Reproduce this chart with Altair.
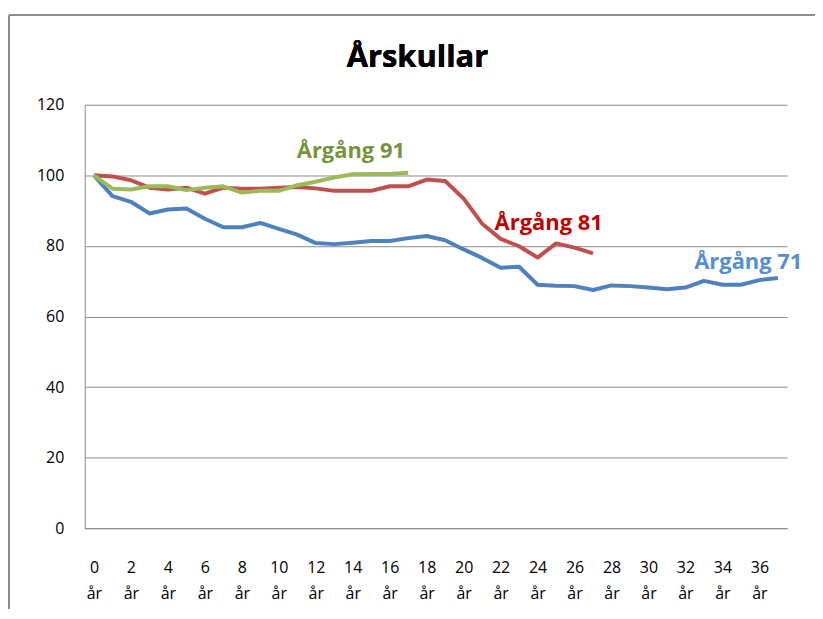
import altair as alt
import pandas as pd

years = list(range(38))
arg71 = [100, 94.1, 92.5, 89.2, 90.3, 90.6, 87.7, 85.3, 85.3, 86.5, 84.8, 83.2, 80.8, 80.5,
         80.9, 81.4, 81.4, 82.2, 82.8, 81.6, 79.0, 76.6, 73.8, 74.1, 69.0, 68.7, 68.6, 67.5,
         68.8, 68.6, 68.2, 67.7, 68.2, 70.1, 69.0, 69.0, 70.3, 70.9]
arg81 = [100, 99.7, 98.6, 96.5, 96.0, 96.5, 94.8, 96.5, 96.2, 96.2, 96.5, 96.7, 96.3, 95.6,
         95.6, 95.6, 96.9, 96.9, 98.8, 98.4, 93.4, 86.3, 82.0, 79.9, 76.7, 80.7, 79.5, 77.9]
arg91 = [100, 96.2, 96.0, 96.9, 96.9, 95.8, 96.5, 96.9, 95.1, 95.6, 95.6, 97.2, 98.2, 99.4,
         100.3, 100.4, 100.4, 100.7]
series_names = ["Årgång 71", "Årgång 81", "Årgång 91"]
line_colors = ["#4F81BD", "#C0504D", "#9BBB59"]
label_colors = ["#558ED5", "#C00000", "#77933C"]
label_x = [35.4, 24.6, 13.9]
label_y = [75.3, 86.6, 107.0]
y_ticks = [0, 20, 40, 60, 80, 100, 120]
title_text = "Årskullar"

rows = []
for name, vals in zip(series_names, [arg71, arg81, arg91]):
    for i, v in enumerate(vals):
        rows.append({"serie": name, "ar": years[i], "varde": v})
df = pd.DataFrame(rows)
labels = pd.DataFrame({"serie": series_names, "lx": label_x, "ly": label_y})

FONT = "Open Sans"

yscale = alt.Scale(domain=[0, 120])
yaxis = alt.Axis(title=None, values=y_ticks, ticks=False,
                 domain=True, domainColor="#8c8c8c", gridColor="#8c8c8c",
                 labelFont=FONT, labelFontSize=16, labelColor="#000000",
                 labelPadding=21)

lines = alt.Chart(df).mark_line(strokeWidth=4, strokeJoin="round").encode(
    x=alt.X("ar:O", scale=alt.Scale(type="point", padding=0.5, domain=years),
            axis=alt.Axis(title=None, labelAngle=0, ticks=False, domain=True,
                          domainColor="#8c8c8c", grid=False,
                          labelExpr="datum.value % 2 == 0 ? [datum.label, 'år'] : ''",
                          labelFont=FONT, labelFontSize=16, labelColor="#000000",
                          labelPadding=31, labelLineHeight=27)),
    y=alt.Y("varde:Q", scale=yscale, axis=yaxis),
    color=alt.Color("serie:N", scale=alt.Scale(domain=series_names, range=line_colors),
                    legend=None),
    order=alt.Order("ar:Q"),
)

texts = alt.Chart(labels).mark_text(font=FONT, fontSize=22, fontWeight="bold").encode(
    x=alt.X("lx:Q", scale=alt.Scale(domain=[-0.5, 37.5]), axis=None),
    y=alt.Y("ly:Q", scale=yscale, axis=yaxis),
    text="serie:N",
    color=alt.Color("serie:N", scale=alt.Scale(domain=series_names, range=label_colors),
                    legend=None),
)

title = alt.Chart(labels).mark_text(
    text=title_text, font=FONT, fontSize=31, fontWeight="bold", color="#000000",
    align="center", baseline="alphabetic"
).encode(x=alt.value(334), y=alt.value(-38))

frame_top = alt.Chart(labels).mark_rule(stroke="#8c8c8c", strokeWidth=1.5).encode(
    x=alt.value(-76), x2=alt.value(740), y=alt.value(-90)
)
frame_left = alt.Chart(labels).mark_rule(stroke="#8c8c8c", strokeWidth=1.5).encode(
    x=alt.value(-76), y=alt.value(-90), y2=alt.value(530)
)

chart = alt.layer(frame_top, frame_left, title, lines, texts).resolve_scale(
    x="independent", color="independent"
).properties(
    width=705, height=425,
    autosize=alt.AutoSizeParams(type="none"),
    padding={"left": 77, "top": 96, "right": 28, "bottom": 80},
).configure_view(stroke=None).configure_axis(gridWidth=1)

chart.save("out.html", embed_options={"renderer": "svg", "actions": False})
